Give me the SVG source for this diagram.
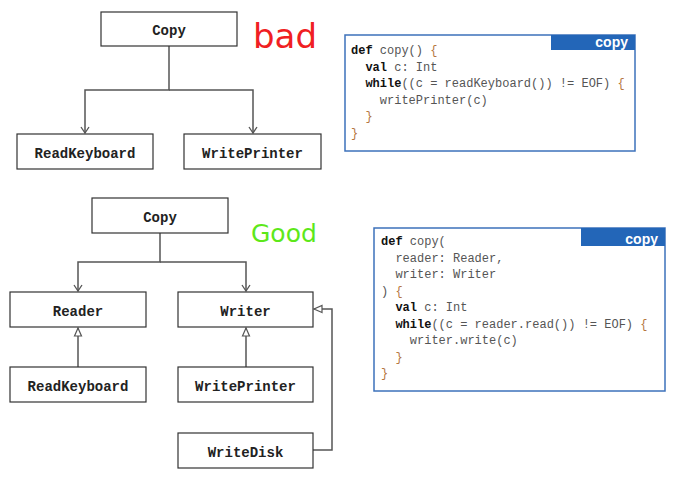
<svg xmlns="http://www.w3.org/2000/svg" width="683" height="477" viewBox="0 0 683 477">
<style>
.node rect{fill:#fff;stroke:#333;stroke-width:1.2}
.node text{font-family:"Liberation Mono","DejaVu Sans Mono",monospace;font-weight:bold;font-size:14px;fill:#222;text-anchor:middle}
.conn path{fill:none;stroke:#555;stroke-width:1.5}
.code{font-family:"Liberation Mono","DejaVu Sans Mono",monospace;font-size:12px;fill:#555}
.kw{font-weight:bold;fill:#111}
.br{fill:#b5773f}
.box{fill:#fff;stroke:#3d72bb;stroke-width:1.5}
.tab{fill:#2366b8}
.tabt{font-family:"Liberation Sans",Arial,sans-serif;font-weight:bold;font-size:14px;fill:#fff;text-anchor:end}
</style>
<defs>
<marker id="v" markerWidth="10" markerHeight="10" refX="9" refY="5" orient="auto" markerUnits="userSpaceOnUse" viewBox="0 0 10 10">
<path d="M3,1 L9,5 L3,9" fill="none" stroke="#555" stroke-width="1.3"/>
</marker>
<marker id="tri" markerWidth="12" markerHeight="12" refX="10" refY="6" orient="auto" markerUnits="userSpaceOnUse" viewBox="0 0 12 12">
<path d="M2,2.5 L10,6 L2,9.5 Z" fill="#fff" stroke="#555" stroke-width="1.2"/>
</marker>
</defs>

<text x="253" y="48" font-family="DejaVu Sans, sans-serif" font-size="34" fill="#f01f23">bad</text>
<text x="251" y="242" font-family="DejaVu Sans, sans-serif" font-size="25" fill="#5de81a">Good</text>

<g class="conn">
<path d="M169,46 V90 H85 V133" marker-end="url(#v)"/>
<path d="M169,90 H253 V133" marker-end="url(#v)"/>
<path d="M160,233 V262 H78 V291" marker-end="url(#v)"/>
<path d="M160,262 H246 V291" marker-end="url(#v)"/>
<path d="M78,367 V328" marker-end="url(#tri)"/>
<path d="M246,367 V328" marker-end="url(#tri)"/>
<path d="M313,450 H332 V309 H314" marker-end="url(#tri)"/>
</g>

<g id="bad-copy" class="node"><rect x="101" y="12" width="136" height="34"/><text x="169" y="35">Copy</text></g>
<g id="bad-readkeyboard" class="node"><rect x="17" y="134" width="136" height="35"/><text x="85" y="157.5">ReadKeyboard</text></g>
<g id="bad-writeprinter" class="node"><rect x="184" y="134" width="137" height="35"/><text x="252.5" y="157.5">WritePrinter</text></g>

<g id="good-copy" class="node"><rect x="92" y="198" width="136" height="35"/><text x="160" y="221.5">Copy</text></g>
<g id="reader" class="node"><rect x="10" y="292" width="136" height="35"/><text x="78" y="315.5">Reader</text></g>
<g id="writer" class="node"><rect x="178" y="292" width="135" height="35"/><text x="245.5" y="315.5">Writer</text></g>
<g id="good-readkeyboard" class="node"><rect x="10" y="367" width="136" height="35"/><text x="78" y="390.5">ReadKeyboard</text></g>
<g id="good-writeprinter" class="node"><rect x="178" y="367" width="135" height="35"/><text x="245.5" y="390.5">WritePrinter</text></g>
<g id="writedisk" class="node"><rect x="178" y="433" width="135" height="35"/><text x="245.5" y="456.5">WriteDisk</text></g>

<g id="code-bad">
<rect class="box" x="345" y="35" width="290" height="116"/>
<rect class="tab" x="551" y="35" width="84" height="15"/>
<text class="tabt" x="628" y="47">copy</text>
<text class="code" x="351" y="54"><tspan class="kw">def</tspan> copy() <tspan class="br">{</tspan></text>
<text class="code" x="365.4" y="70.5"><tspan class="kw">val</tspan> c: Int</text>
<text class="code" x="365.4" y="87"><tspan class="kw">while</tspan>((c = readKeyboard()) != EOF) <tspan class="br">{</tspan></text>
<text class="code" x="379.8" y="103.5">writePrinter(c)</text>
<text class="code br" x="365.4" y="120">}</text>
<text class="code br" x="351" y="136.5">}</text>
</g>

<g id="code-good">
<rect class="box" x="374" y="228" width="291" height="163"/>
<rect class="tab" x="581" y="228" width="84" height="18"/>
<text class="tabt" x="658" y="244">copy</text>
<text class="code" x="381" y="245"><tspan class="kw">def</tspan> copy(</text>
<text class="code" x="395.4" y="261.5">reader: Reader,</text>
<text class="code" x="395.4" y="278">writer: Writer</text>
<text class="code" x="381" y="294.5">) <tspan class="br">{</tspan></text>
<text class="code" x="395.4" y="311"><tspan class="kw">val</tspan> c: Int</text>
<text class="code" x="395.4" y="327.5"><tspan class="kw">while</tspan>((c = reader.read()) != EOF) <tspan class="br">{</tspan></text>
<text class="code" x="409.8" y="344">writer.write(c)</text>
<text class="code br" x="395.4" y="360.5">}</text>
<text class="code br" x="381" y="377">}</text>
</g>
</svg>
